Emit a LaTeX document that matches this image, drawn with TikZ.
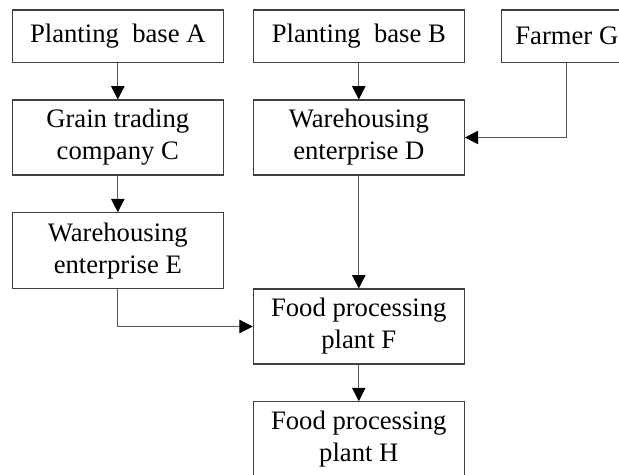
\documentclass[tikz,border=0pt]{standalone}
\usepackage{fontspec}
\setmainfont{Liberation Serif}
\usetikzlibrary{arrows.meta}

\tikzset{
	unit/.style={draw=black!75, line width=0.8pt, minimum width=158.25pt, align=center,
		inner sep=0pt, font=\fontsize{20pt}{24pt}\selectfont},
	flow/.style={draw=black!65, line width=0.8pt, -{Triangle[length=10pt,width=10pt,black]}}
}

\begin{document}
\begin{tikzpicture}[x=0.75pt, y=-0.75pt]%[show background grid]

	\useasboundingbox (0,0) rectangle (619,475);
	\clip (0,0) rectangle (619,475);

	\node[unit, minimum height=39.5pt] (baseA) at (117.8,36.3) {Planting\ \ base A};
	\node[unit, minimum height=39.5pt] (baseB) at (358.8,36.3) {Planting\ \ base B};
	\node[unit, minimum height=39.5pt, minimum width=97.5pt] (farmerG) at (566.8,36.3) {Farmer G};

	\node[unit, minimum height=56.25pt] (tradeC) at (117.8,137.5) {Grain trading\\company C};
	\node[unit, minimum height=56.25pt] (wareD) at (358.8,137.5) {Warehousing\\enterprise D};

	\node[unit, minimum height=57pt] (wareE) at (117.8,250.8) {Warehousing\\enterprise E};
	\node[unit, minimum height=56.25pt] (plantF) at (358.8,326.5) {Food processing\\plant F};

	\node[unit, minimum height=56.25pt] (plantH) at (358.8,439.2) {Food processing\\plant H};

	\draw[flow] (baseA) -- (tradeC);
	\draw[flow] (tradeC) -- (wareE);
	\draw[flow] (baseB) -- (wareD);
	\draw[flow] (farmerG) |- (wareD);
	\draw[flow] (wareD) -- (plantF);
	\draw[flow] (wareE) |- (plantF);
	\draw[flow] (plantF) -- (plantH);

\end{tikzpicture}
\end{document}
